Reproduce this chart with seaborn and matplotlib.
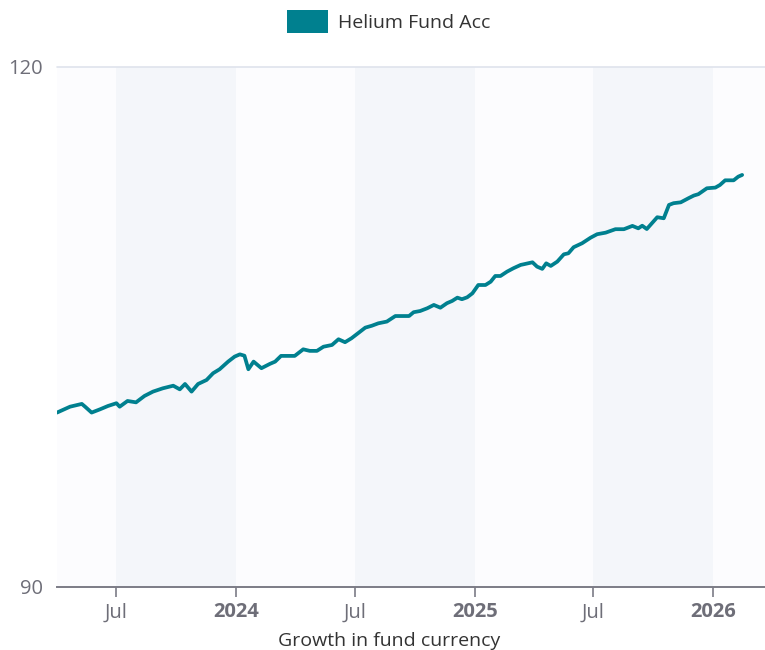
import numpy as np
import pandas as pd
import matplotlib.pyplot as plt
import matplotlib.dates as mdates
from matplotlib.patches import Patch
import seaborn as sns

# Data
dates = ["2023-04-02", "2023-04-22", "2023-05-10", "2023-05-15", "2023-05-25",
         "2023-06-07", "2023-06-19", "2023-07-02", "2023-07-07", "2023-07-19",
         "2023-08-01", "2023-08-14", "2023-08-27", "2023-09-11", "2023-09-27",
         "2023-10-07", "2023-10-15", "2023-10-25", "2023-11-04", "2023-11-17",
         "2023-11-27", "2023-12-07", "2023-12-20", "2023-12-30", "2024-01-07",
         "2024-01-14", "2024-01-20", "2024-01-28", "2024-02-09", "2024-02-22",
         "2024-03-01", "2024-03-10", "2024-03-31", "2024-04-13", "2024-04-23",
         "2024-05-04", "2024-05-14", "2024-05-27", "2024-06-06", "2024-06-16",
         "2024-06-26", "2024-07-06", "2024-07-17", "2024-07-27", "2024-08-06",
         "2024-08-19", "2024-09-01", "2024-09-22", "2024-09-29", "2024-10-09",
         "2024-10-20", "2024-10-30", "2024-11-09", "2024-11-19", "2024-11-27",
         "2024-12-05", "2024-12-12", "2024-12-20", "2024-12-28", "2025-01-06",
         "2025-01-17", "2025-01-25", "2025-02-01", "2025-02-09", "2025-02-19",
         "2025-03-01", "2025-03-12", "2025-03-17", "2025-03-30", "2025-04-06",
         "2025-04-14", "2025-04-20", "2025-04-27", "2025-05-07", "2025-05-17",
         "2025-05-24", "2025-06-01", "2025-06-14", "2025-06-27", "2025-07-07",
         "2025-07-20", "2025-08-04", "2025-08-17", "2025-08-30", "2025-09-08",
         "2025-09-14", "2025-09-21", "2025-10-07", "2025-10-17", "2025-10-25",
         "2025-11-01", "2025-11-12", "2025-11-24", "2025-12-02", "2025-12-09",
         "2025-12-22", "2026-01-04", "2026-01-11", "2026-01-19", "2026-02-01",
         "2026-02-08", "2026-02-14"]
values = [100.06, 100.40, 100.56, 100.40, 100.06,
          100.25, 100.44, 100.60, 100.40, 100.73,
          100.65, 101.02, 101.27, 101.46, 101.61,
          101.40, 101.71, 101.27, 101.71, 101.94,
          102.33, 102.56, 103.00, 103.29, 103.42,
          103.34, 102.56, 103.00, 102.62, 102.87,
          103.00, 103.33, 103.33, 103.71, 103.62,
          103.62, 103.86, 103.96, 104.29, 104.12,
          104.35, 104.64, 104.96, 105.07, 105.21,
          105.31, 105.63, 105.63, 105.85, 105.92,
          106.08, 106.27, 106.11, 106.37, 106.50,
          106.69, 106.60, 106.71, 106.94, 107.42,
          107.42, 107.61, 107.94, 107.94, 108.19,
          108.39, 108.58, 108.62, 108.73, 108.48,
          108.35, 108.67, 108.52, 108.77, 109.19,
          109.25, 109.60, 109.83, 110.15, 110.35,
          110.44, 110.64, 110.64, 110.83, 110.69,
          110.84, 110.65, 111.33, 111.27, 112.04,
          112.14, 112.19, 112.43, 112.58, 112.66,
          113.00, 113.04, 113.19, 113.46, 113.46,
          113.67, 113.77]
series_name = "Helium Fund Acc"
tick_dates = ["2023-07-01", "2024-01-01", "2024-07-01", "2025-01-01",
              "2025-07-01", "2026-01-01"]
tick_labels = ["Jul", "2024", "Jul", "2025", "Jul", "2026"]
band_starts = ["2023-07-01", "2024-07-01", "2025-07-01"]
band_ends = ["2024-01-01", "2025-01-01", "2026-01-01"]
y_ticks = [90, 120]

df = pd.DataFrame({"date": pd.to_datetime(dates), "value": values})

sns.set_theme(style="white")
plt.rcParams["font.family"] = ["Open Sans", "DejaVu Sans"]

line_color = "#00808f"
fig = plt.figure(figsize=(7.65, 6.5), dpi=100)
ax = fig.add_axes([0.0745, 0.097, 0.9255, 0.800])
ax.set_facecolor("#fcfcfe")

# Shaded half-year bands
for s, e in zip(band_starts, band_ends):
    ax.axvspan(pd.Timestamp(s), pd.Timestamp(e), color="#f4f6fa", lw=0, zorder=0)

ax.axhline(120, color="#dfe3ec", lw=1.2, zorder=1, clip_on=False)

sns.lineplot(data=df, x="date", y="value", ax=ax, color=line_color,
             lw=2.7, zorder=3, legend=False)

ax.set_xlim(pd.Timestamp("2023-04-02"), pd.Timestamp("2026-03-21"))
ax.set_ylim(90, 120)

# Axes styling
for side in ["top", "right", "left"]:
    ax.spines[side].set_visible(False)
ax.spines["bottom"].set_color("#7c7c86")
ax.spines["bottom"].set_linewidth(1.4)

ax.set_xticks([mdates.date2num(pd.Timestamp(d)) for d in tick_dates])
ax.set_xticklabels(tick_labels)
for lab in ax.get_xticklabels():
    if lab.get_text() != "Jul":
        lab.set_fontweight("bold")
ax.tick_params(axis="x", bottom=True, length=7, width=1.2, color="#7c7c86",
               labelsize=14.5, labelcolor="#6e6e78", pad=4)
ax.set_yticks(y_ticks)
ax.tick_params(axis="y", left=False, labelsize=14.5, labelcolor="#6e6e78", pad=4)

ax.set_xlabel("Growth in fund currency", fontsize=14, color="#333333")
ax.xaxis.set_label_coords(0.469, -0.087)
ax.set_ylabel("")

fig.legend(handles=[Patch(facecolor="#00808f", edgecolor="none", label=series_name)],
           loc="center", bbox_to_anchor=(0.508, 0.967), frameon=False,
           fontsize=14, handlelength=2.1, handleheight=1.5, handletextpad=0.5,
           labelcolor="#333333")

fig.savefig("out.png", dpi=100)
